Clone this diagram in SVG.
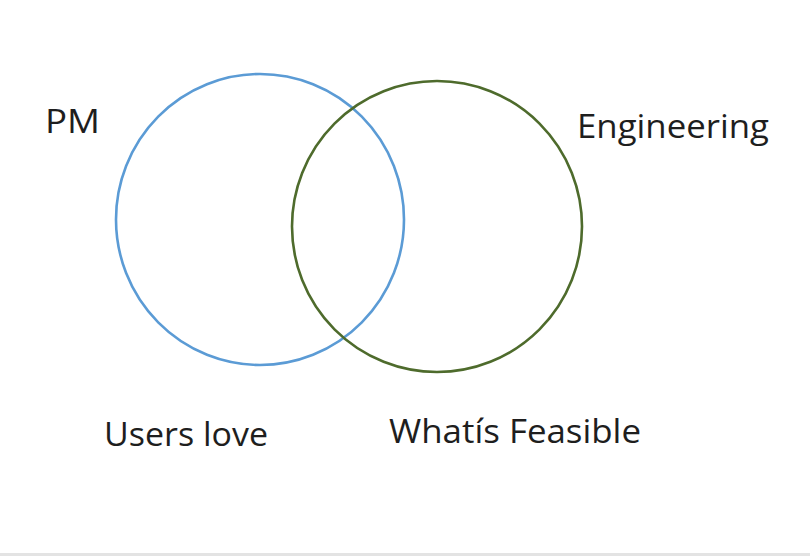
<svg xmlns="http://www.w3.org/2000/svg" width="810" height="556" viewBox="0 0 810 556">
<style>
.lbl{font-family:"Open Sans","Liberation Sans",sans-serif;font-size:32px;fill:#1e1e1e}
.ring{fill:none;stroke-width:2.6}
</style>
<rect width="810" height="556" fill="#ffffff"/>
<rect x="0" y="553" width="810" height="3" fill="#e3e3e3"/>
<g id="pm-circle"><ellipse class="ring" cx="260" cy="219.5" rx="144" ry="145.5" stroke="#5b9bd5"/></g>
<g id="eng-circle"><ellipse class="ring" cx="437" cy="226.5" rx="145" ry="145.5" stroke="#4e6b2c"/></g>
<g id="pm"><text class="lbl" x="45" y="133" textLength="55" lengthAdjust="spacingAndGlyphs">PM</text></g>
<g id="engineering"><text class="lbl" x="577" y="138" textLength="192" lengthAdjust="spacingAndGlyphs">Engineering</text></g>
<g id="users-love"><text class="lbl" x="104" y="446" textLength="164" lengthAdjust="spacingAndGlyphs">Users love</text></g>
<g id="feasible"><text class="lbl" x="389" y="443" textLength="252" lengthAdjust="spacingAndGlyphs">Whatís Feasible</text></g>
</svg>
